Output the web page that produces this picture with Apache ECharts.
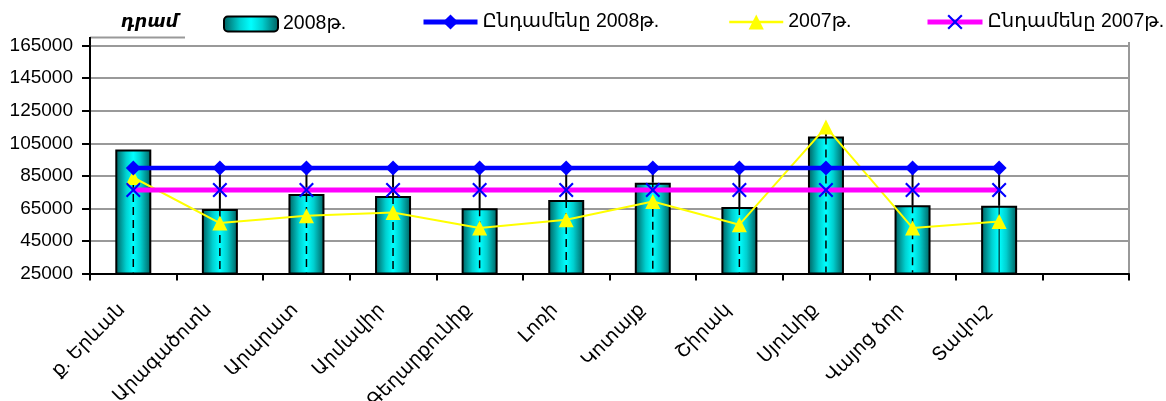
<!DOCTYPE html>
<html>
<head>
<meta charset="utf-8">
<script src="https://cdn.jsdelivr.net/npm/echarts@6/dist/echarts.min.js"></script>
<style>
html,body{margin:0;padding:0;background:#fff;}
#chart{width:1166px;height:401px;}
</style>
</head>
<body>
<div id="chart"></div>
<script>
// ---- data ----
const categories = ["ք. Երևան", "Արագածոտն", "Արարատ", "Արմավիր", "Գեղարքունիք", "Լոռի", "Կոտայք", "Շիրակ", "Սյունիք", "Վայոց ձոր", "Տավուշ", ""];
const seriesNames = ["2008թ.", "Ընդամենը 2008թ.", "2007թ.", "Ընդամենը 2007թ."];
const values2008 = [101200, 64700, 73900, 72700, 65100, 70200, 80800, 65800, 109200, 67000, 66600];
const total2008 = [89800, 89800, 89800, 89800, 89800, 89800, 89800, 89800, 89800, 89800, 89800];
const values2007 = [84000, 56000, 60500, 62500, 53000, 58000, 69200, 55000, 115000, 53000, 57000];
const total2007 = [76300, 76300, 76300, 76300, 76300, 76300, 76300, 76300, 76300, 76300, 76300];
const yTicks = { min: 25000, max: 165000, step: 20000 };
const unitLabel = "դրամ";

const FONT = "'Liberation Sans', Arial, 'DejaVu Sans', sans-serif";

const dropData = values2008.map((v, i) => [i, Math.max(total2008[i], total2007[i], values2007[i]), v, yTicks.min]);

const barGradient = new echarts.graphic.LinearGradient(0, 0, 1, 0, [
  { offset: 0, color: '#005c5c' },
  { offset: 0.3, color: '#00d0d0' },
  { offset: 0.5, color: '#00ffff' },
  { offset: 0.7, color: '#00d0d0' },
  { offset: 1, color: '#005c5c' }
]);

const xMark = 'path://M0,1.6L1.6,0L8,6.4L14.4,0L16,1.6L9.6,8L16,14.4L14.4,16L8,9.6L1.6,16L0,14.4L6.4,8Z';

const chart = echarts.init(document.getElementById('chart'), null, { renderer: 'canvas' });

const legendText = { fontFamily: FONT, fontSize: 19.5, color: '#000' };

chart.setOption({
  animation: false,
  backgroundColor: '#fff',
  grid: { left: 90, right: 37, top: 45.7, bottom: 127.5, containLabel: false, outerBoundsMode: 'none' },
  legend: [
    { left: 223, top: 14, padding: 0, itemWidth: 54, itemHeight: 15, itemGap: 5, textStyle: legendText,
      data: [{ name: seriesNames[0] }] },
    { left: 421, top: 12, padding: 0, itemWidth: 54, itemHeight: 19, textStyle: legendText,
      data: [{ name: seriesNames[1], lineStyle: { width: 5 } }] },
    { left: 728, top: 12, padding: 0, itemWidth: 54, itemHeight: 19, textStyle: legendText,
      data: [{ name: seriesNames[2], lineStyle: { width: 2.5 } }] },
    { left: 925, top: 12, padding: 0, itemWidth: 55, itemHeight: 19, textStyle: legendText,
      data: [{ name: seriesNames[3], lineStyle: { width: 5 } }] }
  ],
  xAxis: {
    type: 'category',
    data: categories,
    boundaryGap: true,
    axisLine: { show: true, lineStyle: { color: '#000', width: 2 } },
    axisTick: { show: true, length: 7, lineStyle: { color: '#000', width: 2 } },
    axisLabel: {
      interval: 0, rotate: 45, margin: 22,
      fontFamily: FONT, fontSize: 19, color: '#000',
      padding: [0, 16, 0, 0]
    },
    splitLine: { show: false }
  },
  yAxis: {
    type: 'value',
    min: yTicks.min, max: yTicks.max, interval: yTicks.step,
    axisLine: { show: true, lineStyle: { color: '#000', width: 2 } },
    axisTick: { show: true, length: 8, lineStyle: { color: '#000', width: 2 } },
    axisLabel: { margin: 17, fontFamily: FONT, fontSize: 19, color: '#000', formatter: function (v) { return String(v); } },
    splitLine: { show: true, lineStyle: { color: '#999999', width: 2 } }
  },
  graphic: [
    { type: 'text', left: 121, top: 13, style: { text: unitLabel, font: 'italic bold 17.5px ' + FONT, fill: '#000' } },
    { type: 'line', shape: { x1: 90, y1: 37.5, x2: 185, y2: 37.5 }, style: { stroke: '#999999', lineWidth: 2 } },
    { type: 'line', shape: { x1: 90, y1: 37, x2: 90, y2: 47 }, style: { stroke: '#000', lineWidth: 2 } },
    { type: 'line', shape: { x1: 1129, y1: 42, x2: 1129, y2: 273 }, style: { stroke: '#999999', lineWidth: 2 } }
  ],
  series: [
    {
      name: seriesNames[0], type: 'bar', data: values2008, barWidth: 36, z: 2,
      itemStyle: { color: barGradient, borderColor: '#000', borderWidth: 2 }
    },
    {
      name: 'drop', type: 'custom', z: 3, silent: true, data: dropData,
      renderItem: function (params, api) {
        const i = api.value(0), top = api.value(1), bv = api.value(2), base = api.value(3);
        const pTop = api.coord([i, top]);
        const pBar = api.coord([i, bv]);
        const pBase = api.coord([i, base]);
        const children = [];
        if (top > bv) {
          children.push({ type: 'line', shape: { x1: pTop[0], y1: pTop[1], x2: pTop[0], y2: pBar[1] }, style: { stroke: '#000', lineWidth: 2 } });
        }
        const startY = Math.max(pTop[1], pBar[1]);
        const last = params.dataIndex === values2008.length - 1;
        children.push({ type: 'line', shape: { x1: pTop[0], y1: startY, x2: pTop[0], y2: pBase[1] - 1 },
          style: last ? { stroke: '#000', lineWidth: 1 } : { stroke: '#000', lineWidth: 1.5, lineDash: [8, 5] } });
        return { type: 'group', children: children };
      }
    },
    {
      name: seriesNames[2], type: 'line', data: values2007, z: 4,
      symbol: 'triangle', symbolSize: 15,
      lineStyle: { color: '#ffff00', width: 2 },
      itemStyle: { color: '#ffff00' }
    },
    {
      name: seriesNames[3], type: 'line', data: total2007, z: 5,
      symbol: xMark, symbolSize: 15,
      lineStyle: { color: '#ff00ff', width: 5 },
      itemStyle: { color: '#0000ff' }
    },
    {
      name: seriesNames[1], type: 'line', data: total2008, z: 6,
      symbol: 'diamond', symbolSize: 15,
      lineStyle: { color: '#0000ff', width: 4.5 },
      itemStyle: { color: '#0000ff' }
    }
  ]
});
</script>
</body>
</html>
